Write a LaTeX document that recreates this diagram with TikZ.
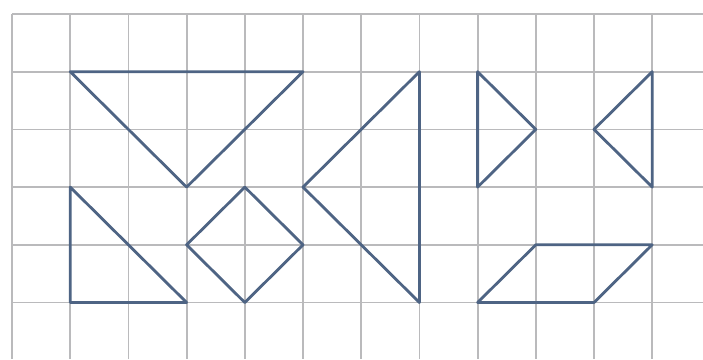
\documentclass[tikz,border=0pt]{standalone}
\definecolor{gridgray}{RGB}{186,186,188}
\definecolor{shapeblue}{RGB}{78,100,132}
\tikzset{
  gridline/.style={draw=gridgray, line width=1.8pt},
  figline/.style={draw=shapeblue, line width=2.8pt, line join=round, line cap=round},
}
\begin{document}
\begin{tikzpicture}[x=1pt,y=-1pt]
  \useasboundingbox[fill=white] (0,0) rectangle (703,359);
  \begin{scope}[shift={(12pt,-14pt)}, x=58.2pt, y=-57.7pt]
    % grid
    \foreach \c in {0,...,11} \draw[gridline] (\c,0) -- (\c,5.98);
    \foreach \r in {0,...,5} \draw[gridline] (0,\r) -- (11.87,\r);
    % large triangle
    \draw[figline] (1,1) -- (5,1) -- (3,3) -- cycle;
    % right triangle
    \draw[figline] (1,3) -- (1,5) -- (3,5) -- cycle;
    % square
    \draw[figline] (4,3) -- (5,4) -- (4,5) -- (3,4) -- cycle;
    % tall triangle
    \draw[figline] (7,1) -- (7,5) -- (5,3) -- cycle;
    % small triangles
    \draw[figline] (8,1) -- (9,2) -- (8,3) -- cycle;
    \draw[figline] (11,1) -- (10,2) -- (11,3) -- cycle;
    % parallelogram
    \draw[figline] (8,5) -- (9,4) -- (11,4) -- (10,5) -- cycle;
  \end{scope}
\end{tikzpicture}
\end{document}
